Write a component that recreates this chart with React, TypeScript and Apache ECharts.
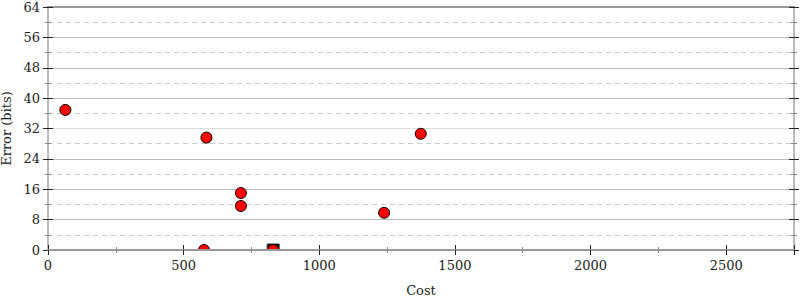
import React, { useEffect, useRef } from "react";
import * as echarts from "echarts";

const costs = [64, 584, 711, 711, 575, 830, 1239, 1374];
const errors = [36.9, 29.6, 15.0, 11.6, 0, 0, 9.8, 30.6];
const bestCost = [830];
const bestError = [0];

const X_MAX = 2750;
const Y_MAX = 64;
const FONT = "DejaVu Serif";

export default function App() {
  const ref = useRef<HTMLDivElement>(null);
  useEffect(() => {
    if (!ref.current) return;
    const chart = echarts.init(ref.current, null, { renderer: "svg" });
    const baseX = {
      type: "value",
      min: 0,
      max: X_MAX,
      interval: 500,
    };
    const baseY = {
      type: "value",
      min: 0,
      max: Y_MAX,
      interval: 8,
    };
    const hidden = { show: false };
    chart.setOption({
      animation: false,
      grid: { left: 48, right: 6, top: 7, bottom: 50, containLabel: false, outerBoundsMode: "none" },
      xAxis: [
        {
          ...baseX,
          position: "bottom",
          name: "Cost",
          nameLocation: "middle",
          nameGap: 34,
          nameTextStyle: { fontFamily: FONT, fontSize: 13, color: "#222" },
          axisLine: { show: true, onZero: false, lineStyle: { color: "#999", width: 2 } },
          axisTick: { show: true, inside: false, length: 5, lineStyle: { color: "#222" } },
          minorTick: { show: true, splitNumber: 2, length: 3, lineStyle: { color: "#888" } },
          axisLabel: {
            fontFamily: FONT,
            fontSize: 13,
            color: "#222",
            margin: 9,
            showMaxLabel: false,
            formatter: (v: number) => String(v),
          },
          splitLine: hidden,
          z: 5,
        },
        {
          ...baseX,
          position: "bottom",
          axisLine: { show: false, onZero: false },
          axisTick: { show: true, inside: true, length: 5, lineStyle: { color: "#222" } },
          minorTick: { show: true, splitNumber: 2, length: 3, lineStyle: { color: "#888" } },
          axisLabel: hidden,
          splitLine: hidden,
        },
        {
          ...baseX,
          position: "top",
          axisLine: { show: true, onZero: false, lineStyle: { color: "#999", width: 2 } },
          axisTick: hidden,
          axisLabel: hidden,
          splitLine: hidden,
        },
      ],
      yAxis: [
        {
          ...baseY,
          position: "left",
          name: "Error (bits)",
          nameLocation: "middle",
          nameGap: 31,
          nameTextStyle: { fontFamily: FONT, fontSize: 13, color: "#222" },
          axisLine: { show: true, onZero: false, lineStyle: { color: "#bbb", width: 2 } },
          axisTick: { show: true, inside: false, length: 5, lineStyle: { color: "#222" } },
          minorTick: { show: true, splitNumber: 2, length: 3, lineStyle: { color: "#888" } },
          axisLabel: { fontFamily: FONT, fontSize: 13, color: "#222", margin: 8, formatter: (v: number) => String(v) },
          splitLine: {
            show: true,
            lineStyle: {
              color: ["#bbb", "#bbb", "#bbb", "#bbb", "#ddd", "#bbb", "#bbb", "#bbb", "#999"],
              width: 1,
            },
          },
          minorSplitLine: {
            show: true,
            lineStyle: { color: "#ccc", width: 1, type: [5, 4] },
          },
        },
        {
          ...baseY,
          position: "left",
          axisLine: { show: false, onZero: false },
          axisTick: { show: true, inside: true, length: 5, lineStyle: { color: "#222" } },
          minorTick: { show: true, splitNumber: 2, length: 3, lineStyle: { color: "#888" } },
          axisLabel: hidden,
          splitLine: hidden,
        },
        {
          ...baseY,
          position: "right",
          axisLine: { show: true, onZero: false, lineStyle: { color: "#bbb", width: 2 } },
          axisTick: { show: true, inside: false, length: 5, lineStyle: { color: "#222" } },
          minorTick: { show: true, splitNumber: 2, length: 3, lineStyle: { color: "#888" } },
          axisLabel: hidden,
          splitLine: hidden,
        },
        {
          ...baseY,
          position: "right",
          axisLine: { show: false, onZero: false },
          axisTick: { show: true, inside: true, length: 5, lineStyle: { color: "#222" } },
          minorTick: { show: true, splitNumber: 2, length: 3, lineStyle: { color: "#888" } },
          axisLabel: hidden,
          splitLine: hidden,
        },
      ],
      series: [
        {
          type: "custom",
          xAxisIndex: 0,
          yAxisIndex: 0,
          clip: true,
          coordinateSystem: "cartesian2d",
          data: bestCost.map((c, i) => [c, bestError[i]]),
          renderItem: (params: any, api: any) => {
            const p = api.coord([api.value(0), api.value(1)]);
            const s = 12;
            return {
              type: "rect",
              shape: { x: p[0] - s / 2, y: p[1] - s / 2, width: s, height: s },
              style: { fill: "#000", stroke: "#333", lineWidth: 1 },
            };
          },
          z: 2,
        },
        {
          type: "custom",
          xAxisIndex: 0,
          yAxisIndex: 0,
          clip: true,
          coordinateSystem: "cartesian2d",
          data: costs.map((c, i) => [c, errors[i]]),
          renderItem: (params: any, api: any) => {
            const p = api.coord([api.value(0), api.value(1)]);
            return {
              type: "circle",
              shape: { cx: p[0], cy: p[1], r: 5.5 },
              style: { fill: "#ff0000", stroke: "#000", lineWidth: 1 },
            };
          },
          z: 3,
        },
      ],
    });
    return () => chart.dispose();
  }, []);
  return <div ref={ref} style={{ position: "absolute", left: 0, top: 0, width: 800, height: 300 }} />;
}
